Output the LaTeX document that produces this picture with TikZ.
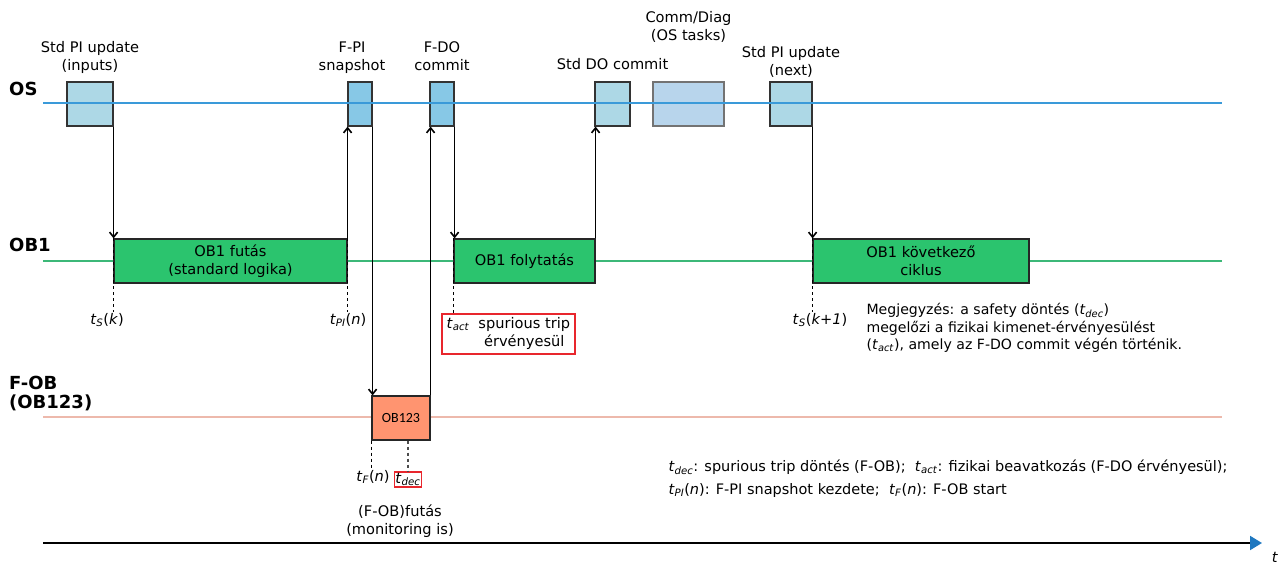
\documentclass[tikz,border=0pt]{standalone}
\usepackage{fontspec}
\setmainfont{DejaVu Sans}
\newfontfamily\boxfont{Carlito}
\usetikzlibrary{positioning,arrows.meta}

\definecolor{oslane}{HTML}{3A9AD9}
\definecolor{oblane}{HTML}{3CB878}
\definecolor{foblane}{HTML}{EDB9AC}
\definecolor{stdblue}{HTML}{ADD8E6}
\definecolor{fblue}{HTML}{87C8E6}
\definecolor{commblue}{HTML}{B8D5EC}
\definecolor{obgreen}{HTML}{2BC46E}
\definecolor{fobsalmon}{HTML}{FF9470}
\definecolor{markred}{HTML}{E8262D}
\definecolor{tipblue}{HTML}{1F78C0}

% t with an italic subscript
\newcommand{\tsb}[1]{\textit{t}\textsubscript{\textit{#1}}}

\tikzset{
  lane/.style={line width=1.5pt},
  lanelabel/.style={font=\fontsize{18}{19}\selectfont\bfseries, anchor=west, align=left, inner sep=0pt},
  osbox/.style={draw=black!80, line width=1.2pt, minimum height=44pt, inner sep=0pt},
  obbox/.style={draw=black!85, fill=obgreen, line width=1.2pt, minimum height=44pt, inner sep=0pt, align=center},
  boxtitle/.style={align=center, inner sep=2pt},
  flow/.style={-{Straight Barb[length=5pt, width=8pt]}, line width=1.6pt},
  tick/.style={dashed, line width=1.2pt},
  tlabel/.style={anchor=north, inner sep=1pt},
  redmark/.style={draw=markred, line width=1.7pt},
}

\begin{document}
\begin{tikzpicture}[x=1pt, y=-1pt, font=\fontsize{14.6}{18}\selectfont]
\useasboundingbox (0,0) rectangle (1283,564);

% lanes
\draw[lane, oblane] (43,261) -- (1222,261);
\draw[lane, foblane] (43,417) -- (1222,417);

\node[lanelabel] (oslbl) at (9,89) {OS};
\node[lanelabel] (ob1lbl) at (9,245) {OB1};
\node[lanelabel] (foblbl) at (9,394) {F-OB\\(OB123)};

% OS tasks
\node[osbox, fill=stdblue, minimum width=46pt] (spi) at (90,104) {};
\node[osbox, fill=fblue, minimum width=24pt] (fpi) at (360,104) {};
\node[osbox, fill=fblue, minimum width=24pt] (fdo) at (442,104) {};
\node[osbox, fill=stdblue, minimum width=35pt] (sdo) at (612.5,104) {};
\node[osbox, draw=black!55, fill=commblue, minimum width=71pt] (comm) at (688.5,104) {};
\node[osbox, fill=stdblue, minimum width=42pt] (spin) at (791,104) {};
\draw[lane, oslane] (43,103) -- (1222,103);

\node[boxtitle, above=6pt of spi] {Std PI update\\(inputs)};
\node[boxtitle, above=6pt of fpi, xshift=-8pt] {F-PI\\snapshot};
\node[boxtitle, above=8pt of fdo] {F-DO\\commit};
\node[boxtitle, above=9pt of sdo] {Std DO commit};
\node[boxtitle, above=37pt of comm] {Comm/Diag\\(OS tasks)};
\node[boxtitle, above=2pt of spin] {Std PI update\\(next)};

% OB1 runs
\node[obbox, minimum width=233pt] (run1) at (230.5,261) {OB1 futás\\(standard logika)};
\node[obbox, minimum width=141pt] (run2) at (524.5,261) {OB1 folytatás};
\node[obbox, minimum width=216pt] (run3) at (921,261) {OB1 következő\\ciklus};

% safety OB
\node[draw=black!85, fill=fobsalmon, line width=1.2pt, minimum width=58pt, minimum height=44pt,
  inner sep=0pt, font=\boxfont\fontsize{14}{15}\selectfont] (fob) at (401,418) {OB123};

% hand-overs
\draw[flow] (spi.south east) -- (spi.south east |- run1.north);
\draw[flow] (run1.north east) -- (run1.north east |- fpi.south);
\draw[flow] (fpi.south east) -- (fpi.south east |- fob.north);
\draw[flow] (fob.north east) -- (fob.north east |- fdo.south);
\draw[flow] (fdo.south east) -- (fdo.south east |- run2.north);
\draw[flow] (run2.north east) -- (run2.north east |- sdo.south);
\draw[flow] (spin.south east) -- (spin.south east |- run3.north);

% time marks
\node[tlabel] (tsk) at (107,312) {\tsb{S}(\textit{k})};
\node[tlabel] (tpi) at (348,312) {\tsb{PI}(\textit{n})};
\node[tlabel] (tsk1) at (820,312) {\tsb{S}(\textit{k+1})};
\node[redmark, anchor=north west, inner sep=1.5pt, minimum width=133pt, minimum height=40pt] (tact) at (441,313)
  {\tsb{act}\hspace{9pt}\begin{tabular}[t]{@{}c@{}}spurious trip\\érvényesül\end{tabular}};
\node[tlabel] (tfn) at (373,469) {\tsb{F}(\textit{n})};
\node[redmark, anchor=north, inner sep=1pt] (dec) at (408,471) {\tsb{dec}};

\draw[tick] (run1.north west) -- (run1.north west |- tsk.north);
\draw[tick] (run1.north east) -- (run1.north east |- tpi.north);
\draw[tick] (run2.north west) -- (run2.north west |- tact.north);
\draw[tick] (run3.north west) -- (run3.north west |- tsk1.north);
\draw[tick] (fob.south west) -- (fob.south west |- tfn.north);
\draw[tick, black!70] (dec.north |- fob.south) -- (dec.north);

\node[align=center] (fobrun) at (400,521) {(F-OB)futás\\(monitoring is)};

% notes
\node[anchor=west, align=left, font=\fontsize{14.1}{17.5}\selectfont] (note) at (863,328)
  {Megjegyzés: a safety döntés (\tsb{dec})\\megelőzi a fizikai kimenet-érvényesülést\\(\tsb{act}), amely az F-DO commit végén történik.};
\node[anchor=west, align=left, font=\fontsize{14.5}{23}\selectfont] (legend) at (665,478.5)
  {\tsb{dec}: spurious trip döntés (F-OB);\ \ \tsb{act}: fizikai beavatkozás (F-DO érvényesül);\\
   \tsb{PI}(\textit{n}): F-PI snapshot kezdete;\ \ \tsb{F}(\textit{n}): F-OB start};

% time axis
\coordinate (t0) at (43,543);
\coordinate (t1) at (1262,543);
\draw[line width=2pt, -{Triangle[length=12pt, width=14pt, color=tipblue]}] (t0) -- (t1);
\node (tlbl) at (1275,557) {\textit{t}};
\end{tikzpicture}
\end{document}
